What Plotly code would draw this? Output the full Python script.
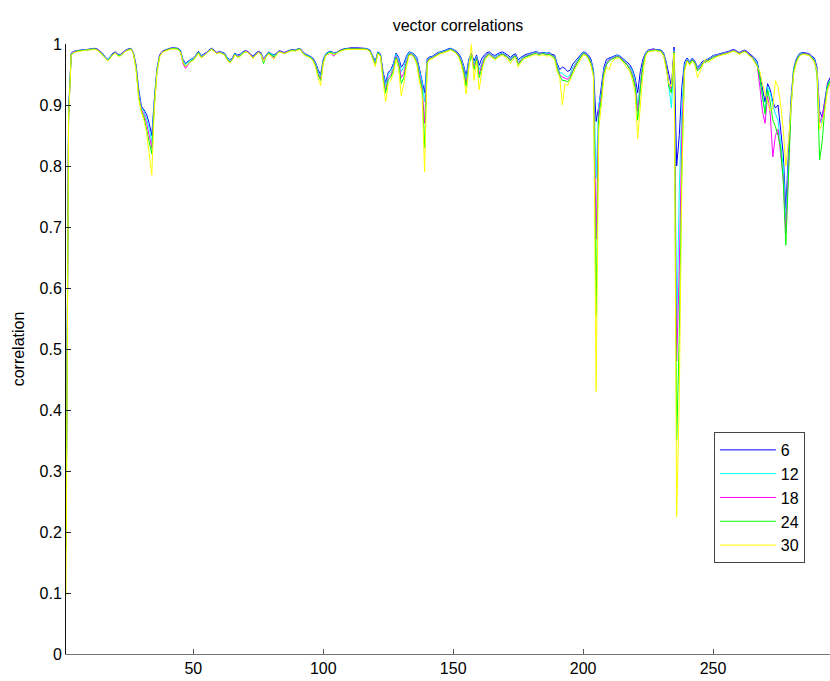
import plotly.graph_objects as go

# sample index 1..295
x_index = list(range(1, 296))

corr_6 = [
    0.180, 0.890, 0.985, 0.988, 0.989, 0.990, 0.990, 0.991, 0.991, 0.992,
    0.992, 0.993, 0.992, 0.989, 0.985, 0.979, 0.975, 0.979, 0.985, 0.987,
    0.983, 0.983, 0.987, 0.990, 0.992, 0.993, 0.985, 0.965, 0.925, 0.898,
    0.892, 0.885, 0.870, 0.850, 0.910, 0.960, 0.982, 0.988, 0.990, 0.992,
    0.993, 0.994, 0.994, 0.993, 0.990, 0.975, 0.968, 0.972, 0.975, 0.976,
    0.982, 0.988, 0.981, 0.983, 0.986, 0.990, 0.993, 0.990, 0.986, 0.988,
    0.987, 0.985, 0.978, 0.974, 0.977, 0.985, 0.982, 0.983, 0.987, 0.989,
    0.988, 0.983, 0.980, 0.985, 0.988, 0.986, 0.976, 0.982, 0.987, 0.984,
    0.982, 0.985, 0.989, 0.988, 0.986, 0.988, 0.990, 0.991, 0.990, 0.992,
    0.993, 0.988, 0.984, 0.982, 0.980, 0.977, 0.970, 0.958, 0.950, 0.975,
    0.984, 0.987, 0.988, 0.985, 0.986, 0.989, 0.991, 0.992, 0.993, 0.993,
    0.994, 0.994, 0.994, 0.993, 0.994, 0.993, 0.992, 0.990, 0.981, 0.972,
    0.987, 0.984, 0.955, 0.937, 0.953, 0.958, 0.968, 0.985, 0.978, 0.962,
    0.968, 0.980, 0.987, 0.986, 0.983, 0.978, 0.960, 0.942, 0.920, 0.976,
    0.979, 0.980, 0.983, 0.986, 0.987, 0.988, 0.990, 0.992, 0.993, 0.991,
    0.989, 0.985, 0.978, 0.965, 0.948, 0.975, 0.985, 0.972, 0.982, 0.965,
    0.976, 0.982, 0.986, 0.987, 0.983, 0.981, 0.984, 0.986, 0.987, 0.985,
    0.982, 0.978, 0.982, 0.984, 0.974, 0.978, 0.981, 0.983, 0.984, 0.985,
    0.987, 0.988, 0.985, 0.986, 0.986, 0.985, 0.986, 0.983, 0.982, 0.968,
    0.958, 0.962, 0.960, 0.955, 0.957, 0.967, 0.972, 0.976, 0.982, 0.987,
    0.986, 0.982, 0.975, 0.957, 0.873, 0.897, 0.930, 0.962, 0.975, 0.977,
    0.978, 0.980, 0.982, 0.981, 0.977, 0.973, 0.970, 0.966, 0.958, 0.945,
    0.920, 0.955, 0.975, 0.985, 0.990, 0.991, 0.992, 0.991, 0.990, 0.990,
    0.985, 0.970, 0.950, 0.930, 0.995, 0.800, 0.850, 0.930, 0.970, 0.977,
    0.971, 0.977, 0.972, 0.962, 0.966, 0.972, 0.973, 0.975, 0.978, 0.981,
    0.982, 0.983, 0.984, 0.986, 0.986, 0.988, 0.990, 0.991, 0.989, 0.986,
    0.988, 0.990, 0.988, 0.984, 0.981, 0.977, 0.971, 0.950, 0.930, 0.905,
    0.935, 0.925, 0.905, 0.895, 0.900, 0.855, 0.820, 0.730, 0.820, 0.910,
    0.960, 0.975, 0.983, 0.986, 0.986, 0.985, 0.984, 0.980, 0.977, 0.962,
    0.890, 0.880, 0.910, 0.935, 0.945,
]

corr_12 = [
    0.175, 0.885, 0.984, 0.987, 0.988, 0.989, 0.990, 0.990, 0.991, 0.991,
    0.992, 0.992, 0.991, 0.988, 0.984, 0.978, 0.975, 0.978, 0.984, 0.986,
    0.982, 0.982, 0.986, 0.989, 0.991, 0.992, 0.985, 0.962, 0.920, 0.895,
    0.890, 0.878, 0.862, 0.840, 0.905, 0.958, 0.980, 0.987, 0.989, 0.991,
    0.992, 0.993, 0.993, 0.992, 0.989, 0.973, 0.966, 0.970, 0.974, 0.975,
    0.981, 0.987, 0.980, 0.982, 0.985, 0.989, 0.992, 0.989, 0.985, 0.987,
    0.986, 0.984, 0.977, 0.973, 0.976, 0.984, 0.981, 0.982, 0.986, 0.988,
    0.987, 0.982, 0.979, 0.984, 0.987, 0.985, 0.975, 0.981, 0.986, 0.983,
    0.981, 0.984, 0.988, 0.987, 0.985, 0.987, 0.989, 0.990, 0.989, 0.991,
    0.992, 0.987, 0.983, 0.981, 0.979, 0.976, 0.968, 0.955, 0.947, 0.973,
    0.983, 0.986, 0.987, 0.984, 0.985, 0.988, 0.990, 0.991, 0.992, 0.992,
    0.993, 0.993, 0.993, 0.992, 0.993, 0.992, 0.991, 0.989, 0.980, 0.970,
    0.986, 0.983, 0.952, 0.932, 0.950, 0.955, 0.965, 0.983, 0.975, 0.955,
    0.962, 0.977, 0.986, 0.985, 0.982, 0.976, 0.956, 0.938, 0.905, 0.974,
    0.978, 0.979, 0.982, 0.985, 0.986, 0.987, 0.989, 0.991, 0.992, 0.990,
    0.988, 0.983, 0.976, 0.962, 0.942, 0.972, 0.984, 0.967, 0.980, 0.958,
    0.970, 0.979, 0.984, 0.985, 0.981, 0.979, 0.982, 0.984, 0.985, 0.983,
    0.980, 0.976, 0.980, 0.982, 0.971, 0.976, 0.979, 0.981, 0.982, 0.984,
    0.986, 0.987, 0.984, 0.985, 0.985, 0.984, 0.985, 0.982, 0.980, 0.965,
    0.953, 0.952, 0.948, 0.946, 0.950, 0.962, 0.969, 0.974, 0.980, 0.986,
    0.985, 0.980, 0.972, 0.955, 0.780, 0.900, 0.920, 0.958, 0.970, 0.975,
    0.977, 0.979, 0.981, 0.980, 0.976, 0.971, 0.968, 0.963, 0.955, 0.940,
    0.900, 0.940, 0.970, 0.984, 0.989, 0.990, 0.991, 0.990, 0.989, 0.989,
    0.983, 0.966, 0.930, 0.895, 0.990, 0.520, 0.760, 0.900, 0.965, 0.975,
    0.970, 0.976, 0.971, 0.960, 0.964, 0.970, 0.972, 0.974, 0.977, 0.980,
    0.981, 0.982, 0.983, 0.985, 0.985, 0.987, 0.989, 0.990, 0.988, 0.985,
    0.987, 0.989, 0.987, 0.983, 0.980, 0.975, 0.968, 0.940, 0.915, 0.890,
    0.930, 0.920, 0.900, 0.885, 0.875, 0.840, 0.800, 0.710, 0.810, 0.905,
    0.958, 0.973, 0.982, 0.985, 0.985, 0.984, 0.983, 0.979, 0.975, 0.958,
    0.880, 0.870, 0.905, 0.930, 0.940,
]

corr_18 = [
    0.170, 0.880, 0.983, 0.987, 0.988, 0.989, 0.989, 0.990, 0.990, 0.991,
    0.991, 0.992, 0.991, 0.988, 0.983, 0.977, 0.974, 0.977, 0.983, 0.986,
    0.981, 0.981, 0.986, 0.989, 0.991, 0.992, 0.984, 0.960, 0.915, 0.893,
    0.885, 0.870, 0.852, 0.830, 0.900, 0.955, 0.980, 0.987, 0.989, 0.991,
    0.992, 0.993, 0.993, 0.992, 0.988, 0.968, 0.960, 0.967, 0.972, 0.974,
    0.980, 0.986, 0.979, 0.981, 0.985, 0.989, 0.992, 0.989, 0.985, 0.987,
    0.985, 0.983, 0.975, 0.971, 0.975, 0.983, 0.980, 0.981, 0.985, 0.988,
    0.987, 0.982, 0.978, 0.983, 0.987, 0.984, 0.974, 0.980, 0.985, 0.981,
    0.977, 0.983, 0.988, 0.987, 0.985, 0.987, 0.989, 0.990, 0.989, 0.991,
    0.992, 0.987, 0.982, 0.980, 0.978, 0.975, 0.966, 0.952, 0.943, 0.971,
    0.982, 0.984, 0.985, 0.980, 0.984, 0.988, 0.990, 0.991, 0.992, 0.992,
    0.993, 0.993, 0.993, 0.992, 0.993, 0.992, 0.991, 0.988, 0.978, 0.966,
    0.985, 0.982, 0.948, 0.925, 0.945, 0.950, 0.960, 0.980, 0.970, 0.945,
    0.952, 0.972, 0.984, 0.984, 0.980, 0.973, 0.950, 0.930, 0.870, 0.972,
    0.977, 0.978, 0.981, 0.984, 0.985, 0.986, 0.988, 0.990, 0.991, 0.989,
    0.987, 0.982, 0.974, 0.958, 0.935, 0.968, 0.983, 0.962, 0.978, 0.950,
    0.966, 0.977, 0.983, 0.984, 0.980, 0.977, 0.980, 0.983, 0.984, 0.982,
    0.979, 0.974, 0.979, 0.981, 0.968, 0.974, 0.978, 0.980, 0.981, 0.983,
    0.985, 0.986, 0.983, 0.985, 0.984, 0.983, 0.984, 0.981, 0.979, 0.962,
    0.950, 0.946, 0.944, 0.942, 0.947, 0.958, 0.966, 0.972, 0.979, 0.985,
    0.984, 0.979, 0.970, 0.950, 0.680, 0.890, 0.915, 0.955, 0.968, 0.974,
    0.976, 0.978, 0.980, 0.979, 0.975, 0.970, 0.966, 0.960, 0.950, 0.935,
    0.890, 0.930, 0.968, 0.983, 0.988, 0.990, 0.991, 0.990, 0.989, 0.988,
    0.982, 0.964, 0.935, 0.925, 0.988, 0.480, 0.630, 0.860, 0.960, 0.974,
    0.968, 0.975, 0.970, 0.958, 0.962, 0.969, 0.971, 0.973, 0.976, 0.979,
    0.980, 0.982, 0.983, 0.985, 0.985, 0.987, 0.989, 0.990, 0.988, 0.985,
    0.987, 0.989, 0.987, 0.982, 0.979, 0.973, 0.965, 0.930, 0.890, 0.870,
    0.915, 0.885, 0.815, 0.850, 0.860, 0.820, 0.780, 0.690, 0.800, 0.900,
    0.955, 0.972, 0.981, 0.984, 0.985, 0.984, 0.983, 0.978, 0.973, 0.955,
    0.870, 0.880, 0.900, 0.925, 0.935,
]

corr_24 = [
    0.172, 0.880, 0.983, 0.986, 0.988, 0.989, 0.989, 0.990, 0.990, 0.991,
    0.991, 0.992, 0.990, 0.987, 0.983, 0.977, 0.973, 0.977, 0.983, 0.985,
    0.981, 0.981, 0.985, 0.988, 0.991, 0.992, 0.983, 0.958, 0.912, 0.890,
    0.880, 0.862, 0.840, 0.820, 0.900, 0.955, 0.979, 0.986, 0.989, 0.991,
    0.992, 0.993, 0.993, 0.992, 0.988, 0.971, 0.963, 0.968, 0.972, 0.974,
    0.980, 0.986, 0.978, 0.980, 0.984, 0.988, 0.992, 0.988, 0.984, 0.986,
    0.985, 0.983, 0.975, 0.970, 0.974, 0.983, 0.979, 0.980, 0.985, 0.987,
    0.986, 0.981, 0.977, 0.982, 0.986, 0.983, 0.968, 0.979, 0.985, 0.982,
    0.979, 0.983, 0.987, 0.986, 0.984, 0.986, 0.989, 0.990, 0.989, 0.991,
    0.992, 0.986, 0.982, 0.980, 0.978, 0.974, 0.965, 0.950, 0.940, 0.970,
    0.982, 0.985, 0.986, 0.983, 0.984, 0.988, 0.990, 0.991, 0.992, 0.992,
    0.993, 0.993, 0.993, 0.992, 0.993, 0.992, 0.991, 0.988, 0.977, 0.965,
    0.985, 0.981, 0.945, 0.920, 0.942, 0.946, 0.957, 0.978, 0.966, 0.935,
    0.945, 0.968, 0.983, 0.983, 0.979, 0.970, 0.945, 0.928, 0.830, 0.970,
    0.976, 0.977, 0.980, 0.983, 0.985, 0.986, 0.988, 0.990, 0.991, 0.989,
    0.986, 0.981, 0.972, 0.955, 0.930, 0.965, 0.982, 0.958, 0.976, 0.945,
    0.962, 0.975, 0.981, 0.983, 0.979, 0.976, 0.979, 0.982, 0.983, 0.981,
    0.978, 0.972, 0.978, 0.980, 0.966, 0.972, 0.977, 0.979, 0.980, 0.982,
    0.984, 0.985, 0.982, 0.984, 0.984, 0.982, 0.983, 0.980, 0.978, 0.960,
    0.948, 0.940, 0.940, 0.938, 0.944, 0.955, 0.964, 0.971, 0.978, 0.984,
    0.983, 0.978, 0.968, 0.948, 0.555, 0.880, 0.910, 0.952, 0.966, 0.972,
    0.975, 0.977, 0.979, 0.978, 0.974, 0.969, 0.965, 0.958, 0.947, 0.930,
    0.875, 0.925, 0.965, 0.982, 0.988, 0.989, 0.990, 0.990, 0.989, 0.988,
    0.981, 0.962, 0.930, 0.920, 0.987, 0.350, 0.520, 0.800, 0.958, 0.973,
    0.967, 0.974, 0.969, 0.956, 0.960, 0.968, 0.970, 0.972, 0.975, 0.978,
    0.979, 0.981, 0.982, 0.984, 0.984, 0.986, 0.988, 0.989, 0.987, 0.984,
    0.986, 0.988, 0.986, 0.981, 0.978, 0.972, 0.964, 0.945, 0.910, 0.885,
    0.925, 0.905, 0.875, 0.865, 0.850, 0.830, 0.775, 0.670, 0.780, 0.895,
    0.955, 0.971, 0.980, 0.983, 0.984, 0.983, 0.982, 0.977, 0.972, 0.950,
    0.810, 0.840, 0.895, 0.930, 0.940,
]

corr_30 = [
    0.095, 0.875, 0.982, 0.986, 0.987, 0.988, 0.989, 0.989, 0.990, 0.990,
    0.991, 0.991, 0.990, 0.987, 0.982, 0.976, 0.972, 0.976, 0.982, 0.985,
    0.980, 0.980, 0.985, 0.988, 0.990, 0.991, 0.983, 0.955, 0.910, 0.888,
    0.875, 0.855, 0.820, 0.785, 0.895, 0.952, 0.978, 0.986, 0.988, 0.990,
    0.991, 0.992, 0.992, 0.991, 0.987, 0.970, 0.963, 0.967, 0.971, 0.973,
    0.979, 0.985, 0.977, 0.980, 0.984, 0.988, 0.991, 0.988, 0.984, 0.986,
    0.984, 0.982, 0.974, 0.969, 0.973, 0.982, 0.978, 0.979, 0.984, 0.987,
    0.986, 0.980, 0.976, 0.982, 0.986, 0.983, 0.972, 0.979, 0.984, 0.979,
    0.975, 0.982, 0.987, 0.986, 0.984, 0.986, 0.988, 0.989, 0.988, 0.990,
    0.991, 0.985, 0.981, 0.979, 0.977, 0.973, 0.962, 0.945, 0.932, 0.968,
    0.981, 0.984, 0.985, 0.983, 0.984, 0.987, 0.989, 0.990, 0.991, 0.991,
    0.992, 0.992, 0.992, 0.991, 0.992, 0.991, 0.990, 0.987, 0.976, 0.963,
    0.984, 0.980, 0.940, 0.905, 0.935, 0.940, 0.952, 0.975, 0.960, 0.915,
    0.935, 0.962, 0.981, 0.982, 0.977, 0.966, 0.938, 0.920, 0.790, 0.968,
    0.975, 0.976, 0.979, 0.982, 0.984, 0.985, 0.987, 0.989, 0.990, 0.988,
    0.985, 0.979, 0.968, 0.948, 0.918, 0.960, 0.999, 0.940, 0.972, 0.925,
    0.955, 0.972, 0.979, 0.981, 0.977, 0.974, 0.977, 0.980, 0.981, 0.979,
    0.975, 0.968, 0.975, 0.978, 0.962, 0.969, 0.975, 0.977, 0.978, 0.980,
    0.982, 0.983, 0.980, 0.982, 0.982, 0.980, 0.981, 0.978, 0.975, 0.955,
    0.945, 0.900, 0.935, 0.932, 0.940, 0.950, 0.960, 0.968, 0.976, 0.982,
    0.981, 0.975, 0.965, 0.945, 0.430, 0.860, 0.900, 0.945, 0.962, 0.958,
    0.970, 0.975, 0.977, 0.976, 0.972, 0.966, 0.962, 0.955, 0.940, 0.920,
    0.845, 0.900, 0.950, 0.980, 0.987, 0.988, 0.989, 0.989, 0.988, 0.987,
    0.980, 0.960, 0.935, 0.930, 0.985, 0.225, 0.420, 0.780, 0.955, 0.972,
    0.965, 0.972, 0.966, 0.945, 0.955, 0.966, 0.975, 0.970, 0.973, 0.976,
    0.978, 0.980, 0.981, 0.983, 0.983, 0.985, 0.987, 0.988, 0.986, 0.983,
    0.985, 0.987, 0.985, 0.980, 0.977, 0.970, 0.962, 0.955, 0.935, 0.920,
    0.905, 0.890, 0.895, 0.940, 0.930, 0.900, 0.860, 0.800, 0.840, 0.900,
    0.950, 0.968, 0.978, 0.982, 0.983, 0.982, 0.981, 0.976, 0.970, 0.955,
    0.860, 0.870, 0.890, 0.925, 0.935,
]

series_names = ["6", "12", "18", "24", "30"]
series_values = [corr_6, corr_12, corr_18, corr_24, corr_30]
series_colors = ["#0000ff", "#00ffff", "#ff00ff", "#00ff00", "#ffff00"]

x_ticks = [50, 100, 150, 200, 250]
y_ticks = [0, 0.1, 0.2, 0.3, 0.4, 0.5, 0.6, 0.7, 0.8, 0.9, 1]
y_tick_labels = ["0", "0.1", "0.2", "0.3", "0.4", "0.5", "0.6", "0.7", "0.8", "0.9", "1"]

FONT = "Liberation Sans, Arial, sans-serif"

fig = go.Figure()
for name, vals, color in zip(series_names, series_values, series_colors):
    fig.add_trace(go.Scatter(
        x=x_index, y=vals, name=name, mode="lines",
        line=dict(color=color, width=1),
    ))

fig.update_layout(
    width=830, height=681,
    margin=dict(l=66, r=0, t=44, b=27),
    paper_bgcolor="white", plot_bgcolor="white",
    font=dict(family=FONT, size=16, color="black"),
    title=dict(text="vector correlations", x=458 / 830, xanchor="center",
               y=1 - 25 / 681, yanchor="middle", font=dict(size=16, family=FONT)),
    showlegend=True,
    legend=dict(
        x=0.848, y=0.364, xanchor="left", yanchor="top",
        bgcolor="white", bordercolor="#444", borderwidth=1,
        font=dict(size=16, family=FONT), tracegroupgap=0,
        itemwidth=56,
    ),
)

fig.update_xaxes(
    range=[1, 295], tickvals=x_ticks, ticks="inside", ticklen=5, tickcolor="#555",
    showline=True, linecolor="#777", linewidth=1, showgrid=False, zeroline=False,
    tickfont=dict(size=16, family=FONT),
)
fig.update_yaxes(
    range=[0, 1], tickvals=y_ticks, ticktext=y_tick_labels, ticks="inside", ticklen=5,
    tickcolor="#222", showline=True, linecolor="#111", linewidth=1, showgrid=False,
    zeroline=False, tickfont=dict(size=16, family=FONT),
    title=dict(text="correlation", standoff=10, font=dict(size=16, family=FONT)),
)

fig.write_html("out.html")
